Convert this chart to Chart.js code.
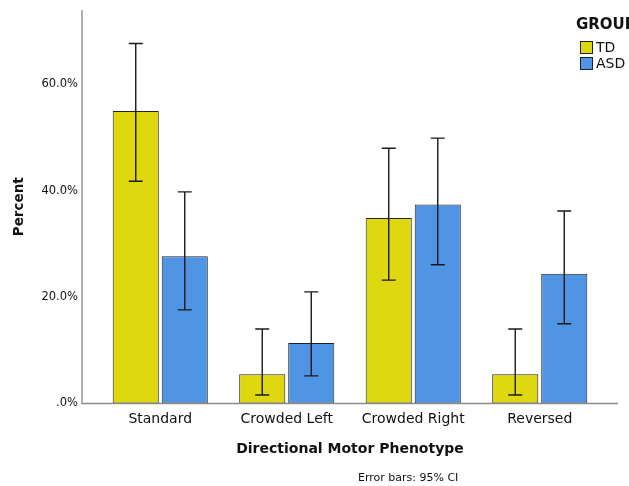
<!DOCTYPE html>
<html>
<head>
<meta charset="utf-8">
<script src="https://cdn.jsdelivr.net/npm/chart.js@4"></script>
<style>
  html, body { margin: 0; padding: 0; background: #ffffff; }
  #wrap { width: 629px; height: 486px; position: relative; }
</style>
</head>
<body>
<div id="wrap"><canvas id="c"></canvas></div>
<script>
// ---- data ----
const categories = ['Standard', 'Crowded Left', 'Crowded Right', 'Reversed'];
const groupNames = ['TD', 'ASD'];
const tdPercent  = [55.0, 5.5, 34.9, 5.5];
const asdPercent = [27.7, 11.4, 37.4, 24.4];
const tdLower  = [41.8, 1.6, 23.2, 1.6];
const tdUpper  = [67.7, 14.0, 48.0, 14.0];
const asdLower = [17.6, 5.2, 26.1, 15.0];
const asdUpper = [39.8, 21.0, 49.9, 36.2];
const yTickValues = [0, 20, 40, 60];
const yTickLabels = ['.0%', '20.0%', '40.0%', '60.0%'];
const axisTitleX = 'Directional Motor Phenotype';
const axisTitleY = 'Percent';
const legendTitle = 'GROUP';
const footnote = 'Error bars: 95% CI';

// ---- styles ----
const FONT = '"DejaVu Sans", "Liberation Sans", sans-serif';
const TEXT = '#111111';
const colors = ['#DFD811', '#5094E4'];
const errLow = [tdLower, asdLower];
const errHigh = [tdUpper, asdUpper];
const AXIS_EXT = 15;

const errorBars = {
  id: 'errorBars',
  afterDatasetsDraw(chart) {
    const ctx = chart.ctx;
    const ys = chart.scales.y;
    ctx.save();
    ctx.strokeStyle = '#1a1a1a';
    ctx.lineWidth = 1.4;
    chart.data.datasets.forEach((ds, di) => {
      const meta = chart.getDatasetMeta(di);
      meta.data.forEach((bar, i) => {
        const x = bar.x;
        const yt = ys.getPixelForValue(errHigh[di][i]);
        const yb = ys.getPixelForValue(errLow[di][i]);
        const cap = 7;
        ctx.beginPath();
        ctx.moveTo(x, yt); ctx.lineTo(x, yb);
        ctx.moveTo(x - cap, yt); ctx.lineTo(x + cap, yt);
        ctx.moveTo(x - cap, yb); ctx.lineTo(x + cap, yb);
        ctx.stroke();
      });
    });
    ctx.restore();
  }
};

const axesLines = {
  id: 'axesLines',
  afterDatasetsDraw(chart) {
    const {ctx, chartArea: a} = chart;
    ctx.save();
    ctx.strokeStyle = '#8a8a8a';
    ctx.lineWidth = 1.3;
    ctx.beginPath();
    ctx.moveTo(a.left - AXIS_EXT, a.top);
    ctx.lineTo(a.left - AXIS_EXT, a.bottom);
    ctx.lineTo(a.right + AXIS_EXT, a.bottom);
    ctx.stroke();
    ctx.restore();
  }
};

const extras = {
  id: 'extras',
  afterDraw(chart) {
    const {ctx, chartArea: a} = chart;
    ctx.save();
    ctx.fillStyle = TEXT;
    ctx.font = '11px ' + FONT;
    ctx.textBaseline = 'middle';
    ctx.textAlign = 'left';
    ctx.fillText(footnote, a.left + 261, 478);
    const lx = a.right - 23;
    ctx.font = 'bold 15px ' + FONT;
    ctx.fillText(legendTitle, lx - 4, 25);
    ctx.font = '14px ' + FONT;
    chart.data.datasets.forEach((ds, i) => {
      const y = 41 + i * 16;
      ctx.fillStyle = ds.backgroundColor;
      ctx.fillRect(lx, y, 13, 13);
      ctx.strokeStyle = '#222';
      ctx.lineWidth = 1;
      ctx.strokeRect(lx + 0.5, y + 0.5, 12, 12);
      ctx.fillStyle = TEXT;
      ctx.fillText(ds.label, lx + 16, y + 7);
    });
    ctx.restore();
  }
};

new Chart(document.getElementById('c'), {
  type: 'bar',
  data: {
    labels: categories,
    datasets: [
      { label: groupNames[0], data: tdPercent, backgroundColor: colors[0], borderColor: '#222222', borderWidth: 1, borderSkipped: false },
      { label: groupNames[1], data: asdPercent, backgroundColor: colors[1], borderColor: '#222222', borderWidth: 1, borderSkipped: false }
    ]
  },
  options: {
    responsive: true,
    maintainAspectRatio: false,
    animation: false,
    layout: { padding: { top: 10, right: 26, bottom: 20.5, left: 0 } },
    datasets: { bar: { categoryPercentage: 0.775, barPercentage: 0.94 } },
    plugins: { legend: { display: false }, tooltip: { enabled: false } },
    scales: {
      x: {
        grid: { display: false, drawTicks: false },
        border: { display: false },
        ticks: { color: TEXT, font: { family: FONT, size: 14 }, padding: 7, maxRotation: 0 },
        title: { display: true, text: axisTitleX, color: TEXT, font: { family: FONT, size: 14, weight: 'bold' }, padding: { top: 0, bottom: 8 } },
        afterFit(s) { s.height = 62; s.paddingLeft = 0; s.paddingRight = 0; }
      },
      y: {
        min: 0, max: 74,
        grid: { display: false, drawTicks: false },
        border: { display: false },
        afterBuildTicks(s) { s.ticks = yTickValues.map(v => ({ value: v })); },
        ticks: {
          color: TEXT, font: { family: FONT, size: 11.5 }, padding: 19,
          callback: (v) => yTickLabels[yTickValues.indexOf(v)]
        },
        title: { display: true, text: axisTitleY, color: TEXT, font: { family: FONT, size: 13.5, weight: 'bold' }, padding: { top: 11, bottom: 0 } },
        afterFit(s) { s.width = 97; s.paddingTop = 0; s.paddingBottom = 0; }
      }
    }
  },
  plugins: [axesLines, errorBars, extras]
});
</script>
</body>
</html>
